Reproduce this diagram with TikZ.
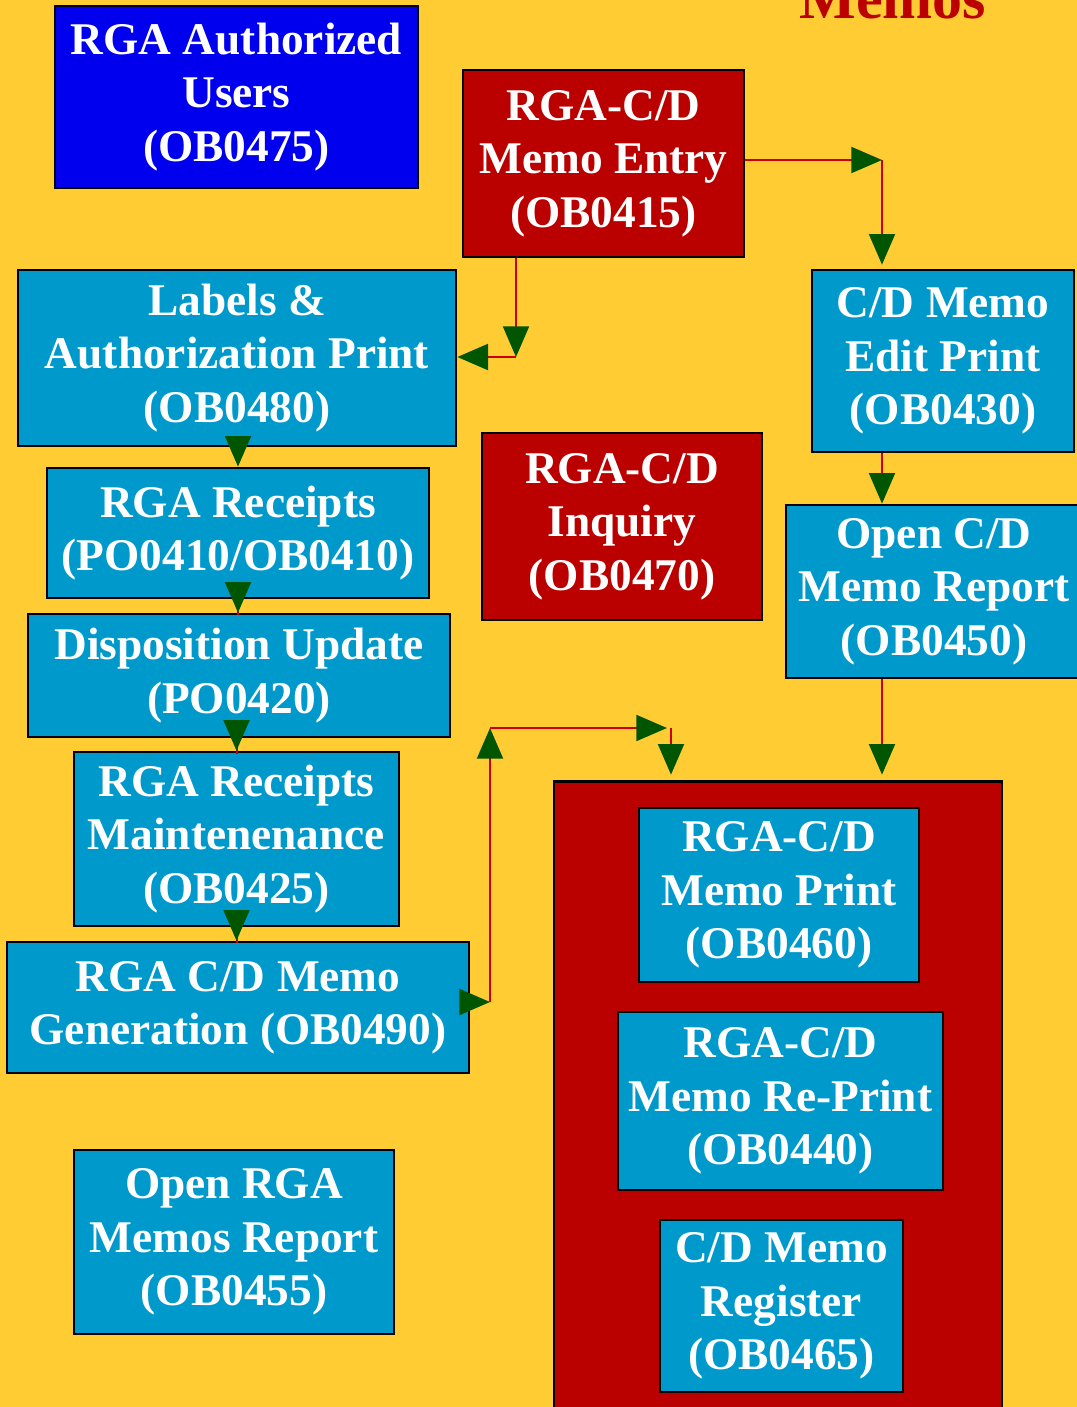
\documentclass[tikz,border=0pt]{standalone}
\usepackage{fontspec}
\setmainfont{Liberation Serif}
\usetikzlibrary{arrows.meta,positioning,calc}
\definecolor{Gold}{HTML}{FFCC33}
\definecolor{Sky}{HTML}{0099CC}
\definecolor{Royal}{HTML}{0000EE}
\definecolor{Brick}{HTML}{BB0000}
\definecolor{Wire}{HTML}{CC0000}
\definecolor{Leaf}{HTML}{005500}
\tikzset{box/.style={draw=black,line width=2pt,fill=Sky,inner sep=0pt,align=center,text=white,font=\bfseries\fontsize{34}{40}\selectfont},flow/.style={-{Triangle[length=23pt,width=19.5pt,color=Leaf]},line width=1.5pt,draw=Wire}}

\begin{document}
\begin{tikzpicture}[
  x=0.75pt,y=-0.75pt,
  sz/.style 2 args={minimum width=#1*0.75pt,minimum height=#2*0.75pt},
  hop/.style={flow,shorten <=-12pt}
]
\fill[Gold] (0,0) rectangle (1077,1407);
\useasboundingbox (0,0) rectangle (1077,1407);

\node[font=\bfseries\fontsize{45}{54}\selectfont,text=Brick,anchor=base] (title) at (893,18) {Memos};

\node[box,fill=Royal,sz={363}{182}] (users) at (236.5,97) {RGA Authorized\\Users\\(OB0475)};
\node[box,fill=Brick,sz={281}{187}] (entry) at (603.5,163.5) {RGA-C/D\\Memo Entry\\(OB0415)};
\node[box,sz={438}{176}] (labels) at (237,358) {Labels \&\\Authorization Print\\(OB0480)};
\node[box,sz={262}{182}] (editp) at (943,361) {C/D Memo\\Edit Print\\(OB0430)};
\node[box,sz={382}{130}] (receipts) at (238,533) {RGA Receipts\\(PO0410/OB0410)};
\node[box,fill=Brick,sz={280}{187}] (inquiry) at (622,526.5) {RGA-C/D\\Inquiry\\(OB0470)};
\node[box,sz={296}{173}] (openrep) at (934,591.5) {Open C/D\\Memo Report\\(OB0450)};
\node[box,sz={422}{123}] (dispo) at (239,675.5) {Disposition Update\\(PO0420)};
\node[box,sz={325}{174}] (maint) at (236.5,839) {RGA Receipts\\Maintenenance\\(OB0425)};
\node[box,sz={462}{131}] (gen) at (238,1007.5) {RGA C/D Memo\\Generation (OB0490)};
\node[box,sz={320}{184}] (openrga) at (234,1242) {Open RGA\\Memos Report\\(OB0455)};

\node[box,fill=Brick,sz={448}{660},anchor=north] (group) at (778,780) {};
\node[box,sz={280}{174}] (memoprint) at (779,895) {RGA-C/D\\Memo Print\\(OB0460)};
\node[box,sz={325}{178}] (reprint) at (780.5,1101) {RGA-C/D\\Memo Re-Print\\(OB0440)};
\node[box,sz={243}{172}] (register) at (781.5,1306) {C/D Memo\\Register\\(OB0465)};

\coordinate (c1) at (882,160);
\draw[flow] (entry.east |- c1) -- (c1);
\draw[flow,shorten >=3pt] (c1) -- (c1 |- editp.north);
\draw[flow] (c1 |- editp.south) -- (c1 |- openrep.north);
\draw[flow,shorten >=4pt] (c1 |- openrep.south) -- (c1 |- group.north);

\coordinate (c2) at (516,357);
\draw[flow] (c2 |- entry.south) -- (c2);
\draw[flow] (c2) -- (c2 -| labels.east);

\draw[hop] (receipts.north |- labels.south) -- (receipts.north);
\draw[hop] (receipts.north |- receipts.south) -- (receipts.north |- dispo.north);
\draw[hop] (maint.north |- dispo.south) -- (maint.north);
\draw[hop] (maint.north |- maint.south) -- (maint.north |- gen.north);

\coordinate (c3) at (490,1002);
\coordinate (c4) at (490,728);
\coordinate (c5) at (671,728);
\draw[flow,shorten <=-8pt] (c3 -| gen.east) -- (c3);
\draw[flow] (c3) -- (c4);
\draw[flow,shorten >=3pt] (c4) -- (c5);
\draw[flow,shorten >=4pt] (c5) -- (c5 |- group.north);
\end{tikzpicture}
\end{document}
